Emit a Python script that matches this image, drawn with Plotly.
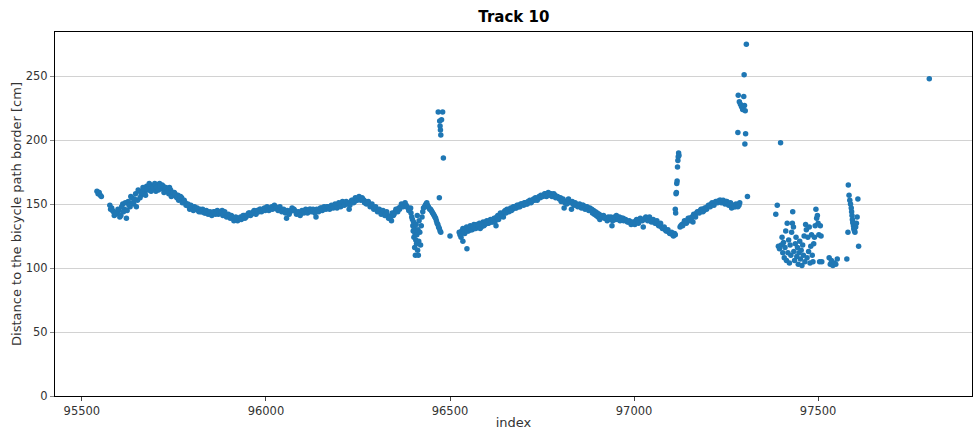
import plotly.graph_objects as go

# ---- measured distances, grouped by stretches of the track ----
# regularly sampled stretches: (first index, index step, distances in cm)
start_a, step_a = 95541, 3
dist_a = [160, 158, 159, 157, 156]

start_b, step_b = 95576, 5
dist_b = [149, 147, 144, 142, 143, 145, 141, 150, 146, 139, 152, 148, 155, 150, 158, 153,
          160, 157, 163, 159, 164, 161, 165, 162, 164, 160, 165, 166, 162, 164, 160, 162,
          158, 161, 157, 159, 156, 157, 154, 155, 152, 151, 149, 148, 149, 147, 148, 146,
          145, 146, 144, 145, 143, 144, 143, 142, 143, 144, 143, 142, 144, 145, 143, 142,
          141, 140, 141, 139, 138, 139, 138, 140, 139, 141, 140, 142, 143, 142, 144, 143,
          145, 144, 146, 145, 147, 146, 147, 146, 148, 147, 148, 146, 147, 146, 145, 144,
          139, 143, 144, 147, 146, 144, 143, 142, 143, 144, 145, 144, 145, 146, 145, 144,
          140, 145, 146, 147, 146, 147, 148, 147, 147, 148, 149, 148, 149, 150, 149, 151,
          150, 151, 146, 152, 153, 152, 154, 155, 154, 155, 153, 152, 151, 150, 149, 148,
          147, 146, 145, 144, 144, 143, 143, 141, 139, 137, 141, 144, 145, 147, 148, 149,
          150, 149, 147, 146]
start_b2, step_b2 = 95578, 5
dist_b2 = [146, 145, 141, 143, 146, 140, 148, 144, 151, 145, 149, 156, 151, 154, 148, 161,
           155, 159, 162, 157, 162, 166, 160, 163, 166, 163, 161, 164, 165, 159, 163, 160,
           163, 156, 159, 158, 155, 153, 156, 151, 153, 149, 150, 146, 148, 145, 147, 147,
           144, 144, 146, 143, 145, 142, 144, 141, 144, 142, 145, 143, 143, 141, 144, 140,
           142, 139, 140, 137, 140, 137, 139, 138, 141, 139, 141, 143, 141, 143, 145, 142,
           144, 146, 144, 146, 145, 148, 145, 147, 146, 149, 147, 145, 148, 144, 146, 143,
           145, 142, 145, 146, 145, 142, 144, 141, 145, 143, 146, 143, 146, 144, 146, 143,
           146, 144, 147, 145, 148, 146, 148, 146, 149, 147, 150, 147, 151, 148, 152, 149,
           152, 150, 149, 153, 151, 155, 153, 156, 153, 154, 151, 150, 152, 148, 150, 146,
           148, 144, 146, 142, 145, 141, 144, 139, 140, 143, 142, 146, 144, 146, 150, 148,
           151, 148, 145, 147]

start_c, step_c = 96431, 4
dist_c = [148, 150, 149, 147, 146, 144, 142, 140, 137, 134, 131, 128]
start_c2, step_c2 = 96433, 4
dist_c2 = [149, 151, 148, 146, 145, 143, 141, 139, 135, 132, 129]

start_d, step_d = 96525, 5
dist_d = [128, 124, 131, 127, 132, 129, 133, 130, 134, 131, 133, 135, 132, 136, 134, 137,
          135, 138, 136, 139, 133, 141, 140, 142, 140, 145, 146, 144, 147, 146, 148, 147,
          149, 148, 150, 149, 151, 150, 152, 151, 153, 153, 154, 155, 155, 156, 157, 158,
          157, 158, 158, 157, 157, 156, 155, 155, 153, 147, 152, 153, 152, 146, 150, 151,
          149, 149, 148, 149, 147, 148, 147, 147, 146, 145, 144, 143, 142, 141, 140, 139,
          139, 140, 138, 133, 139, 138, 139, 140, 139, 139, 138, 137, 136, 136, 135, 135,
          137, 136, 137, 138, 132, 139, 139, 138, 137, 137, 136, 135, 134, 133, 132, 131,
          130, 129, 128, 127, 126, 127]
start_d2, step_d2 = 96527, 5
dist_d2 = [126, 129, 128, 130, 129, 131, 130, 132, 131, 134, 133, 131, 134, 133, 136, 135,
           137, 136, 138, 136, 140, 138, 143, 141, 144, 143, 145, 146, 145, 148, 147, 149,
           148, 150, 150, 151, 150, 152, 153, 152, 154, 155, 153, 156, 157, 156, 158, 156,
           159, 157, 156, 158, 155, 156, 154, 152, 154, 151, 150, 154, 151, 152, 149, 150,
           148, 150, 147, 149, 146, 148, 145, 146, 143, 142, 141, 140, 138, 140, 141, 139,
           137, 139, 140, 137, 140, 141, 138, 137, 139, 137, 138, 136, 137, 134, 136, 134,
           138, 135, 139, 137, 138, 140, 137, 140, 136, 138, 135, 137, 133, 135, 131, 132,
           129, 130, 127, 128, 125, 126]

start_e, step_e = 97125, 5
dist_e = [132, 134, 135, 136, 137, 139, 138, 136, 141, 143, 144, 145, 146, 145, 147, 148,
          149, 150, 150, 151, 152, 152, 153, 152, 151, 152, 151, 150, 147, 149, 148, 149,
          149]
start_e2, step_e2 = 97127, 5
dist_e2 = [133, 133, 137, 135, 139, 137, 140, 142, 140, 144, 143, 146, 144, 147, 146, 149,
           148, 151, 149, 152, 151, 153, 151, 153, 150, 152, 149, 151, 149, 148, 150, 148,
           151]

# irregular readings: (index, distance in cm)
idx_dip = [96394, 96396, 96398, 96399, 96400, 96401, 96402, 96403, 96404, 96405, 96406,
           96407, 96408, 96409, 96410, 96411, 96412, 96413, 96414, 96415, 96416, 96418,
           96420, 96422, 96424, 96426, 96428]
dist_dip = [143, 140, 138, 133, 129, 136, 124, 131, 116, 127, 110, 122, 134, 119, 126,
            141, 114, 130, 110, 121, 137, 128, 118, 133, 140, 144, 147]

idx_jump1 = [96468, 96471, 96472, 96473, 96474, 96475, 96477, 96480, 96482,
             96500, 96535, 96546]
dist_jump1 = [222, 155, 215, 211, 208, 204, 216, 222, 186, 125, 121, 115]

idx_jump2 = [97112, 97113, 97114, 97115, 97116, 97117, 97118, 97119, 97120, 97121, 97122]
dist_jump2 = [146, 143, 158, 159, 166, 168, 179, 184, 187, 190, 188]

idx_jump3 = [97282, 97283, 97286, 97289, 97292, 97295, 97298, 97299, 97300, 97301,
             97302, 97303, 97305, 97308]
dist_jump3 = [206, 235, 230, 228, 226, 224, 234, 251, 227, 197, 223, 205, 275, 156]

idx_tail = [97385, 97389, 97392, 97395, 97398, 97400, 97402, 97404, 97406, 97408, 97410,
            97412, 97414, 97416, 97418, 97420, 97422, 97424, 97426, 97428, 97430, 97431,
            97433, 97434, 97436, 97438, 97440, 97442, 97444, 97446, 97448, 97450, 97452,
            97454, 97456, 97458, 97460, 97462, 97464, 97466, 97468, 97470, 97472, 97474,
            97476, 97478, 97480, 97482, 97484, 97486, 97488, 97490, 97492, 97494, 97496,
            97498, 97500, 97502, 97504, 97506, 97508, 97510, 97530, 97533, 97536, 97540,
            97544, 97548, 97552, 97578, 97581, 97582, 97584, 97586, 97588, 97590, 97591,
            97592, 97593, 97594, 97595, 97596, 97597, 97598, 97599, 97600, 97602, 97604,
            97606, 97608, 97610, 97802]
dist_tail = [142, 149, 117, 115, 198, 118, 124, 112, 120, 108, 116, 129, 106, 135, 112,
             122, 104, 118, 110, 128, 135, 144, 132, 113, 106, 119, 124, 109, 116, 103,
             112, 121, 107, 114, 102, 118, 110, 125, 105, 134, 130, 108, 124, 113, 132,
             104, 117, 126, 110, 105, 119, 124, 133, 146, 139, 141, 135, 126, 105, 133,
             125, 105, 108, 103, 106, 102, 104, 103, 107, 107, 128, 165, 157, 153, 150,
             147, 144, 141, 138, 136, 135, 133, 131, 130, 129, 128, 132, 135, 140, 154,
             117, 248]

x_ticks = [95500, 96000, 96500, 97000, 97500]
y_ticks = [0, 50, 100, 150, 200, 250]

# ---- assemble the series ----
index, distance = [], []
for start, step, vals in [(start_a, step_a, dist_a),
                          (start_b, step_b, dist_b), (start_b2, step_b2, dist_b2),
                          (start_c, step_c, dist_c), (start_c2, step_c2, dist_c2),
                          (start_d, step_d, dist_d), (start_d2, step_d2, dist_d2),
                          (start_e, step_e, dist_e), (start_e2, step_e2, dist_e2)]:
    index += [start + step * i for i in range(len(vals))]
    distance += vals
for ids, vals in [(idx_dip, dist_dip), (idx_jump1, dist_jump1), (idx_jump2, dist_jump2),
                  (idx_jump3, dist_jump3), (idx_tail, dist_tail)]:
    index += ids
    distance += vals

font = "DejaVu Sans"

fig = go.Figure(go.Scatter(
    x=index, y=distance, mode="markers",
    marker=dict(color="#1f77b4", size=5.5, line=dict(width=0)),
    hoverinfo="x+y",
))

fig.update_layout(
    width=976, height=430,
    margin=dict(l=55, r=4, t=32, b=34),
    paper_bgcolor="white", plot_bgcolor="white",
    showlegend=False,
    font=dict(family=font, color="#222"),
    title=dict(text="<b>Track 10</b>", x=0.5265, xanchor="center", y=0.96, yanchor="middle",
               font=dict(family=font, size=15, color="black")),
)

fig.update_xaxes(
    range=[95427, 97918], tickvals=x_ticks, ticktext=[str(v) for v in x_ticks],
    showgrid=False, zeroline=False, automargin=False,
    showline=True, mirror=True, linecolor="black", linewidth=1,
    ticks="outside", ticklen=4, tickcolor="#444",
    tickfont=dict(family=font, size=11.5, color="#333"),
    title=dict(text="index", font=dict(family=font, size=13, color="#333"), standoff=1),
)
fig.update_yaxes(
    range=[0, 284.5], tickvals=y_ticks, ticktext=[str(v) for v in y_ticks],
    showgrid=True, gridcolor="#d2d2d2", gridwidth=1, zeroline=False, automargin=False,
    showline=True, mirror=True, linecolor="black", linewidth=1,
    ticks="outside", ticklen=4, tickcolor="#888",
    tickfont=dict(family=font, size=11.5, color="#333"),
    title=dict(text="Distance to the bicycle path border [cm]",
               font=dict(family=font, size=13, color="#333"), standoff=1),
)

fig.write_html("out.html")
